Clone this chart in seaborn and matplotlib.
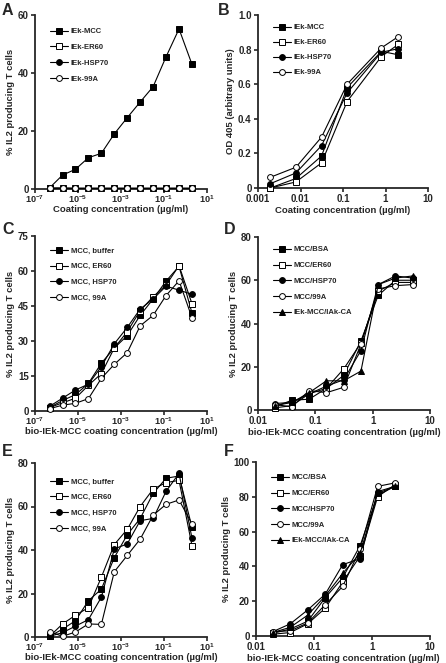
import matplotlib
matplotlib.use('Agg')
import matplotlib.pyplot as plt
import seaborn as sns
import pandas as pd
from matplotlib.ticker import NullLocator

sns.set_style('ticks')
plt.rcParams['font.family'] = ['Liberation Sans', 'DejaVu Sans']
plt.rcParams['font.weight'] = 'bold'
plt.rcParams['mathtext.fontset'] = 'custom'
plt.rcParams['mathtext.rm'] = 'Liberation Sans:bold'
plt.rcParams['mathtext.bf'] = 'Liberation Sans:bold'
plt.rcParams['mathtext.default'] = 'bf'

# coating concentrations (ug/ml)
conc_wide = [4.77e-7, 1.91e-6, 7.63e-6, 3.05e-5, 1.22e-4, 4.88e-4,
             1.95e-3, 7.81e-3, 0.03125, 0.125, 0.5, 2.0]
conc_elisa = [0.00195, 0.0078, 0.03125, 0.125, 0.8, 2.0]
conc_narrow = [0.0195, 0.039, 0.078, 0.156, 0.3125, 0.625, 1.25, 2.5, 5.0]

# panel A - % IL2 producing T cells
a_labels = ['IEk-MCC', 'IEk-ER60', 'IEk-HSP70', 'IEk-99A']
a_mcc = [0.4, 4.8, 6.8, 10.8, 12.3, 19.0, 24.6, 30.0, 35.3, 45.6, 55.2, 43.0]
a_er60 = [0.3, 0.3, 0.3, 0.3, 0.3, 0.3, 0.3, 0.3, 0.3, 0.3, 0.3, 0.3]
a_hsp70 = [0.4, 0.4, 0.4, 0.4, 0.4, 0.4, 0.4, 0.4, 0.4, 0.4, 0.4, 0.4]
a_99a = [0.4, 0.4, 0.3, 0.3, 0.3, 0.3, 0.3, 0.3, 0.3, 0.3, 0.3, 0.3]

# panel B - OD 405
b_mcc = [0.0, 0.055, 0.185, 0.58, 0.79, 0.77]
b_er60 = [0.0, 0.035, 0.145, 0.50, 0.76, 0.83]
b_hsp70 = [0.025, 0.087, 0.245, 0.55, 0.785, 0.805]
b_99a = [0.062, 0.12, 0.294, 0.60, 0.81, 0.875]

# panel C
c_labels = ['MCC, buffer', 'MCC, ER60', 'MCC, HSP70', 'MCC, 99A']
c_buffer = [1.5, 4.5, 7.0, 11.8, 20.5, 27.0, 32.3, 41.0, 48.0, 55.7, 62.0, 42.0]
c_er60 = [1.5, 3.5, 5.5, 11.0, 16.0, 27.0, 34.0, 43.0, 49.0, 54.0, 62.3, 46.0]
c_hsp70 = [2.0, 5.5, 9.0, 11.5, 19.0, 28.8, 35.8, 43.7, 48.0, 53.5, 51.8, 50.0]
c_99a = [1.0, 2.5, 3.3, 5.3, 14.0, 20.0, 25.0, 36.5, 41.0, 49.5, 55.8, 40.0]

# panel D
d_labels = ['MCC/BSA', 'MCC/ER60', 'MCC/HSP70', 'MCC/99A', 'IEk-MCC/IAk-CA']
d_bsa = [1.5, 4.5, 5.0, 10.0, 16.0, 32.0, 53.0, 60.0, 60.0]
d_er60 = [1.0, 2.0, 7.5, 10.0, 19.0, 31.0, 55.0, 59.0, 59.0]
d_hsp70 = [3.0, 3.5, 7.5, 11.0, 14.0, 27.5, 58.0, 62.0, 61.0]
d_99a = [2.5, 1.5, 9.0, 8.0, 10.5, 30.5, 56.0, 57.5, 58.0]
d_iak = [2.0, 3.5, 8.0, 13.5, 13.5, 18.0, 58.0, 61.0, 62.0]

# panel E
e_buffer = [0.3, 3.6, 7.5, 16.7, 22.0, 36.5, 47.0, 54.5, 66.0, 73.0, 74.0, 50.5]
e_er60 = [0.3, 6.0, 10.0, 13.5, 27.5, 42.5, 49.5, 60.0, 68.0, 71.0, 72.0, 42.0]
e_hsp70 = [0.3, 2.0, 5.0, 8.0, 18.3, 40.5, 42.8, 53.5, 54.5, 67.0, 75.2, 45.5]
e_99a = [2.5, 0.3, 2.3, 6.0, 5.8, 30.0, 37.5, 45.0, 56.0, 61.0, 63.0, 52.0]

# panel F
f_bsa = [1.5, 4.0, 8.5, 22.0, 33.5, 52.0, 81.0, 86.0]
f_er60 = [1.0, 2.0, 7.0, 16.0, 31.0, 46.0, 80.0, 87.0]
f_hsp70 = [2.5, 7.0, 15.0, 24.0, 41.0, 44.5, 83.0, 86.0]
f_99a = [2.5, 3.0, 7.5, 18.0, 28.5, 50.0, 86.0, 88.0]
f_iak = [2.0, 5.0, 12.0, 23.0, 36.0, 47.5, 82.0, 86.0]

styles4 = [('s', True), ('s', False), ('o', True), ('o', False)]
styles5 = styles4 + [('^', True)]

W, H = 446, 663
fig = plt.figure(figsize=(W / 100, H / 100), dpi=100)


def make_ax(left, top, right, bottom):
    return fig.add_axes([left / W, 1 - bottom / H, (right - left) / W, (bottom - top) / H])


def draw(ax, x, series, labels, styles, ylim, yticks, yticklabels, xlim, xticks, xticklabels,
         xlabel, ylabel, letter, lpos, leg_y, xlab_y=None, spacing=1.1):
    for y, lab, (mk, filled) in zip(series, labels, styles):
        df = pd.DataFrame({'conc': x[:len(y)], 'val': y})
        sns.lineplot(data=df, x='conc', y='val', ax=ax, color='black', lw=0.8,
                     marker=mk, markersize=4.2 if mk != '^' else 4.6,
                     markerfacecolor='black' if filled else 'white',
                     markeredgecolor='black', markeredgewidth=0.7,
                     label=lab, clip_on=False, zorder=3)
    ax.set_xscale('log')
    ax.set_xlim(*xlim)
    ax.set_ylim(*ylim)
    ax.set_xticks(xticks)
    ax.set_xticklabels(xticklabels)
    ax.xaxis.set_minor_locator(NullLocator())
    ax.set_yticks(yticks)
    ax.set_yticklabels(yticklabels)
    for s in ['top', 'right']:
        ax.spines[s].set_visible(False)
    for s in ['left', 'bottom']:
        ax.spines[s].set_linewidth(1.3)
    ax.tick_params(axis='both', width=1.2, length=3, pad=1.5, labelsize=7)
    if xlab_y is not None:
        # superscript tick labels sit tight under the axis
        ax.tick_params(axis='x', pad=0.3, labelsize=6.6)
    for t in ax.get_xticklabels() + ax.get_yticklabels():
        t.set_fontweight('bold')
    ax.set_xlabel(xlabel, fontsize=6.8, fontweight='bold', labelpad=1)
    if xlab_y is not None:
        ax.xaxis.set_label_coords(0.5, xlab_y)
    ax.set_ylabel(ylabel, fontsize=6.8, fontweight='bold', labelpad=2)
    leg = ax.legend(loc='upper left', bbox_to_anchor=(0.07, leg_y), frameon=False,
                    fontsize=5.5, handlelength=2.3, handletextpad=0.4,
                    labelspacing=spacing, borderaxespad=0)
    for t in leg.get_texts():
        t.set_fontweight('bold')
    fig.text(lpos[0] / W, 1 - lpos[1] / H, letter, fontsize=11.5, fontweight='bold',
             ha='left', va='top')


wide_ticks = [1e-7, 1e-5, 1e-3, 1e-1, 10]
wide_labels = ['$10^{-7}$', '$10^{-5}$', '$10^{-3}$', '$10^{-1}$', '$10^{1}$']
narrow_ticks = [0.01, 0.1, 1, 10]
narrow_labels = ['0.01', '0.1', '1', '10']
il2 = '% IL2 producing T cells'
bio = 'bio-IEk-MCC coating concentration (\u00b5g/ml)'
coat = 'Coating concentration (\u00b5g/ml)'

axA = make_ax(35, 15, 207, 189)
draw(axA, conc_wide, [a_mcc, a_er60, a_hsp70, a_99a], a_labels, styles4,
     (0, 60), [0, 20, 40, 60], ['0', '20', '40', '60'], (1e-7, 10), wide_ticks, wide_labels,
     coat, il2, 'A', (2, 3), 0.943, xlab_y=-0.09)

axB = make_ax(258, 15, 428, 188)
draw(axB, conc_elisa, [b_mcc, b_er60, b_hsp70, b_99a], a_labels, styles4,
     (0, 1.0), [0, 0.2, 0.4, 0.6, 0.8, 1.0], ['0', '0.2', '0.4', '0.6', '0.8', '1.0'],
     (0.001, 10), [0.001, 0.01, 0.1, 1, 10], ['0.001', '0.01', '0.1', '1', '10'],
     coat, 'OD 405 (arbitrary units)', 'B', (218, 3), 0.965, spacing=1.0)

axC = make_ax(35, 236, 207, 411)
draw(axC, conc_wide, [c_buffer, c_er60, c_hsp70, c_99a], c_labels, styles4,
     (0, 75), [0, 15, 30, 45, 60, 75], ['0', '15', '30', '45', '60', '75'],
     (1e-7, 10), wide_ticks, wide_labels, bio, il2, 'C', (2, 222), 0.954, xlab_y=-0.09)

axD = make_ax(258, 237, 430, 410)
draw(axD, conc_narrow, [d_bsa, d_er60, d_hsp70, d_99a, d_iak], d_labels, styles5,
     (0, 80), [0, 20, 40, 60, 80], ['0', '20', '40', '60', '80'],
     (0.01, 10), narrow_ticks, narrow_labels, bio, il2, 'D', (224, 222), 0.965)

axE = make_ax(35, 463, 207, 637)
draw(axE, conc_wide, [e_buffer, e_er60, e_hsp70, e_99a], c_labels, styles4,
     (0, 80), [0, 20, 40, 60, 80], ['0', '20', '40', '60', '80'],
     (1e-7, 10), wide_ticks, wide_labels, bio, il2, 'E', (2, 444), 0.931, xlab_y=-0.09)

axF = make_ax(256, 462, 430, 636)
draw(axF, conc_narrow, [f_bsa, f_er60, f_hsp70, f_99a, f_iak], d_labels, styles5,
     (0, 100), [0, 20, 40, 60, 80, 100], ['0', '20', '40', '60', '80', '100'],
     (0.01, 10), narrow_ticks, narrow_labels, bio, il2, 'F', (224, 444), 0.948)

fig.savefig('out.png', dpi=100)
